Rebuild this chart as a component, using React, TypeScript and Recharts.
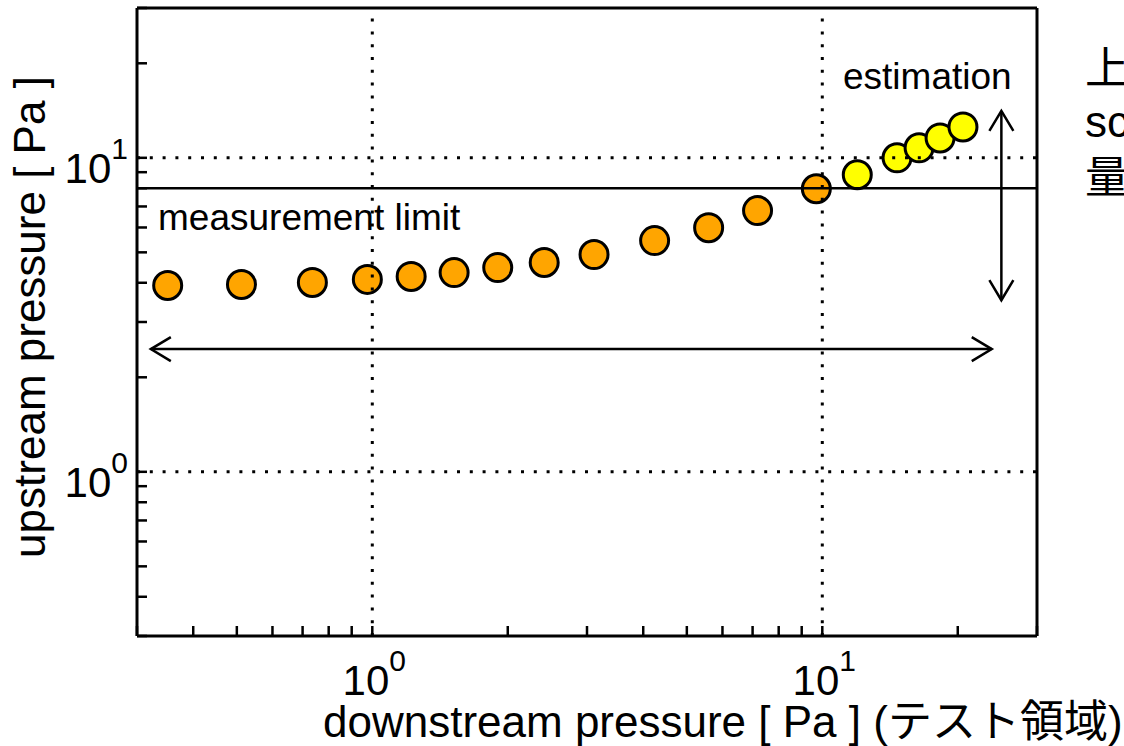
import React from 'react';
import { ScatterChart, Scatter, XAxis, YAxis, ReferenceLine } from 'recharts';

// measured points (orange) and estimated points (yellow)
const measuredX = [0.351, 0.512, 0.736, 0.975, 1.22, 1.52, 1.9, 2.41, 3.11, 4.24, 5.59, 7.18, 9.7];
const measuredY = [3.92, 3.95, 4.01, 4.1, 4.19, 4.31, 4.47, 4.64, 4.92, 5.45, 5.99, 6.79, 7.97];
const estimatedX = [11.96, 14.66, 16.41, 18.27, 20.54];
const estimatedY = [8.83, 10.0, 10.76, 11.57, 12.54];

const measurementLimit = 8.0;

const logTicks = [0.3, 0.4, 0.5, 0.6, 0.7, 0.8, 0.9, 1, 2, 3, 4, 5, 6, 7, 8, 9, 10, 20, 30];
const majorTicks = [1, 10];
const majorExponents = ['0', '1'];
const gridValues = [1, 10];

// double arrows
const spanArrow = [{ x: 0.322, y: 2.46 }, { x: 23.8, y: 2.46 }];
const riseArrow = [{ x: 25.0, y: 3.52 }, { x: 25.0, y: 14.1 }];

const measured = measuredX.map((x, i) => ({ x, y: measuredY[i] }));
const estimated = estimatedX.map((x, i) => ({ x, y: estimatedY[i] }));

const FONT = "'Liberation Sans', Arial, 'Noto Sans CJK JP', sans-serif";

const dot = (fill: string) => (props: any) => (
  <circle cx={props.cx} cy={props.cy} r={14} fill={fill} stroke="#000" strokeWidth={3} />
);

function XTick(props: any) {
  const { x, y, payload } = props;
  const i = majorTicks.indexOf(payload.value);
  if (i < 0) return <g />;
  return (
    <text x={x + 2} y={y + 59} textAnchor="middle" fontSize={42} fill="#000">
      10<tspan dy={-24} fontSize={30}>{majorExponents[i]}</tspan>
    </text>
  );
}

function YTick(props: any) {
  const { x, y, payload } = props;
  const i = majorTicks.indexOf(payload.value);
  if (i < 0) return <g />;
  return (
    <text x={x - 9} y={y + 25} textAnchor="end" fontSize={42} fill="#000">
      10<tspan dy={-24} fontSize={30}>{majorExponents[i]}</tspan>
    </text>
  );
}

function DoubleArrow(props: any) {
  const { x1, y1, x2, y2 } = props;
  const len = Math.hypot(x2 - x1, y2 - y1) || 1;
  const ux = (x2 - x1) / len;
  const uy = (y2 - y1) / len;
  const back = 20;
  const side = 12;
  const head = (tx: number, ty: number, dx: number, dy: number) =>
    `M${tx - dx * back - dy * side},${ty - dy * back + dx * side} L${tx},${ty} L${tx - dx * back + dy * side},${ty - dy * back - dx * side}`;
  return (
    <g>
      <line x1={x1} y1={y1} x2={x2} y2={y2} stroke="#000" strokeWidth={2.5} />
      <path d={head(x2, y2, ux, uy) + ' ' + head(x1, y1, -ux, -uy)} fill="none" stroke="#000" strokeWidth={2.5} />
    </g>
  );
}

export default function App() {
  return (
    <div style={{ position: 'absolute', left: 0, top: 0, width: 1124, height: 746, background: '#fff', fontFamily: FONT }}>
      <ScatterChart width={1124} height={746} margin={{ top: 7, right: 86, bottom: 0, left: 0 }}>
        <XAxis
          xAxisId="b"
          dataKey="x"
          type="number"
          scale="log"
          domain={[0.3, 30]}
          allowDataOverflow
          ticks={logTicks}
          interval={0}
          height={110}
          tickSize={-10}
          tickMargin={10}
          axisLine={{ stroke: '#000', strokeWidth: 3 }}
          tickLine={{ stroke: '#000', strokeWidth: 2.5 }}
          tick={<XTick />}
        />
        <XAxis
          xAxisId="t"
          orientation="top"
          type="number"
          scale="log"
          domain={[0.3, 30]}
          allowDataOverflow
          ticks={logTicks}
          interval={0}
          height={1}
          tickSize={-10}
          axisLine={{ stroke: '#000', strokeWidth: 3 }}
          tickLine={{ stroke: '#000', strokeWidth: 2.5 }}
          tick={false}
        />
        <YAxis
          yAxisId="l"
          dataKey="y"
          type="number"
          scale="log"
          domain={[0.3, 30]}
          allowDataOverflow
          ticks={logTicks}
          interval={0}
          width={137}
          tickSize={-10}
          tickMargin={10}
          axisLine={{ stroke: '#000', strokeWidth: 3 }}
          tickLine={{ stroke: '#000', strokeWidth: 2.5 }}
          tick={<YTick />}
        />
        <YAxis
          yAxisId="r"
          orientation="right"
          type="number"
          scale="log"
          domain={[0.3, 30]}
          allowDataOverflow
          ticks={logTicks}
          interval={0}
          width={1}
          tickSize={-10}
          axisLine={{ stroke: '#000', strokeWidth: 3 }}
          tickLine={{ stroke: '#000', strokeWidth: 2.5 }}
          tick={false}
        />
        <Scatter xAxisId="b" yAxisId="l" data={measured} shape={dot('#FFA500')} isAnimationActive={false} />
        <Scatter xAxisId="b" yAxisId="l" data={estimated} shape={dot('#FFFF00')} isAnimationActive={false} />
        {gridValues.map((v) => (
          <ReferenceLine key={'gx' + v} xAxisId="b" yAxisId="l" x={v} stroke="#000" strokeWidth={3} strokeDasharray="3 9.8" zIndex={700} />
        ))}
        {gridValues.map((v) => (
          <ReferenceLine key={'gy' + v} xAxisId="b" yAxisId="l" y={v} stroke="#000" strokeWidth={3} strokeDasharray="3 9.8" zIndex={700} />
        ))}
        <ReferenceLine xAxisId="b" yAxisId="l" y={measurementLimit} stroke="#000" strokeWidth={2.5} zIndex={700} />
        <ReferenceLine xAxisId="b" yAxisId="l" segment={spanArrow} shape={(p: any) => <DoubleArrow {...p} />} />
        <ReferenceLine xAxisId="b" yAxisId="l" segment={riseArrow} shape={(p: any) => <DoubleArrow {...p} />} />
        <text x={843} y={89} fontSize={37} fill="#000">estimation</text>
        <text x={158} y={230} fontSize={37} fill="#000">measurement limit</text>
        <text x={323} y={737} fontSize={44} fill="#000">downstream pressure [ Pa ] (テスト領域)</text>
        <text transform="rotate(-90)" x={-317} y={45} textAnchor="middle" fontSize={44} fill="#000">upstream pressure [ Pa ]</text>
        <text x={1085} y={84} fontSize={44} fill="#000">上</text>
        <text x={1085} y={137} fontSize={44} fill="#000">sc</text>
        <text x={1085} y={193} fontSize={44} fill="#000">量</text>
      </ScatterChart>
    </div>
  );
}
